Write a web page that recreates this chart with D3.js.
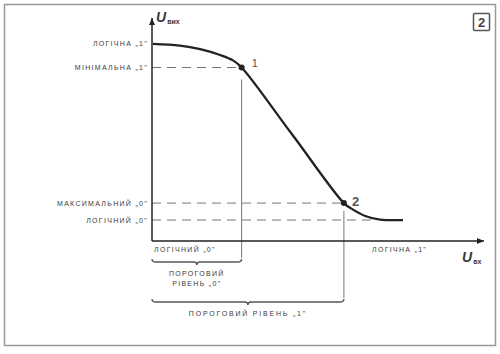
<!DOCTYPE html>
<html><head><meta charset="utf-8">
<script src="https://cdn.jsdelivr.net/npm/d3@7"></script>
<style>body{margin:0;background:#fff}svg{display:block}text{font-family:"Liberation Sans",Arial,sans-serif;fill:#3a3a3a}</style>
</head><body><svg id="c" width="500" height="354"></svg>
<script>
// Transfer characteristic (data units: x 0..10, y 0..5)
const curveX = [0.03, 0.84, 1.45, 2.05, 2.44, 2.70, 4.24, 5.78, 6.02, 6.42, 6.87, 7.56];
const curveY = [4.42, 4.38, 4.30, 4.17, 4.05, 3.89, 2.37, 0.85, 0.72, 0.56, 0.48, 0.47];
const outLevels = [4.42, 3.89, 0.85, 0.47];
const outLabels = ["ЛОГІЧНА „1\"", "МІНІМАЛЬНА „1\"", "МАКСИМАЛЬНИЙ „0\"", "ЛОГІЧНИЙ „0\""];
const thresholds = [2.70, 5.78];
const pointNames = ["1", "2"];
const pointsX = [2.70, 5.78];
const pointsY = [3.89, 0.85];

const svg = d3.select("#c");
const x = d3.scaleLinear().domain([0, 10]).range([152, 484]);
const y = d3.scaleLinear().domain([0, 5]).range([241, 18]);
const ink = "#222", thin = "#777";
const FS = 7, LS = 1.3;

// frame
svg.append("rect").attr("x", 4.5).attr("y", 4.5).attr("width", 491).attr("height", 341)
  .attr("fill", "none").attr("stroke", "#999").attr("stroke-width", 1.5);

// figure number box
svg.append("rect").attr("x", 473.5).attr("y", 13.5).attr("width", 16).attr("height", 17)
  .attr("fill", "none").attr("stroke", "#555").attr("stroke-width", 1.5).attr("rx", 1);
svg.append("text").attr("x", 481.5).attr("y", 27).attr("text-anchor", "middle")
  .attr("font-size", 13).attr("font-weight", "bold").style("fill", "#444").text("2");

// dashed horizontal levels (not for logical 1)
const dashEnds = [null, pointsX[0], pointsX[1], 6.6];
outLevels.forEach((v, i) => {
  if (dashEnds[i] !== null) {
    svg.append("line").attr("x1", x(0)).attr("x2", x(dashEnds[i])).attr("y1", y(v)).attr("y2", y(v))
      .attr("stroke", "#777").attr("stroke-width", 1).attr("stroke-dasharray", "9,6");
  }
  svg.append("text").attr("x", x(0) - 4).attr("y", y(v) + 2.5).attr("text-anchor", "end")
    .attr("font-size", FS).attr("letter-spacing", LS).text(outLabels[i]);
});

// vertical threshold lines
const vBottom = [262, 302];
thresholds.forEach((t, i) => {
  svg.append("line").attr("x1", x(t)).attr("x2", x(t)).attr("y1", i === 0 ? y(pointsY[0]) + 12 : y(pointsY[1]) + 8)
    .attr("y2", vBottom[i] - 4).attr("stroke", thin).attr("stroke-width", 1);
});

// axes
const axisG = svg.append("g");
axisG.append("line").attr("x1", x(0)).attr("x2", x(0)).attr("y1", y(5)).attr("y2", y(0))
  .attr("stroke", ink).attr("stroke-width", 1.5);
axisG.append("line").attr("x1", x(0)).attr("x2", x(10)).attr("y1", y(0)).attr("y2", y(0))
  .attr("stroke", ink).attr("stroke-width", 1.5);
axisG.append("path").attr("d", `M${x(0)-3},${y(5)+7}L${x(0)},${y(5)}L${x(0)+3},${y(5)+7}Z`).attr("fill", ink);
axisG.append("path").attr("d", `M${x(10)-7},${y(0)-3}L${x(10)},${y(0)}L${x(10)-7},${y(0)+3}Z`).attr("fill", ink);

// axis titles
const uy = svg.append("text").attr("x", 156).attr("y", 22).attr("font-size", 14).attr("font-style", "italic").attr("font-weight", "bold");
uy.append("tspan").text("U");
uy.append("tspan").attr("font-size", 7).attr("font-style", "normal").attr("dy", 2).attr("dx", 1).text("вих");
const ux = svg.append("text").attr("x", 462).attr("y", 262).attr("font-size", 14).attr("font-style", "italic").attr("font-weight", "bold");
ux.append("tspan").text("U");
ux.append("tspan").attr("font-size", 7).attr("font-style", "normal").attr("dy", 2).attr("dx", 1).text("вх");

// curve
const line = d3.line().x(d => x(d[0])).y(d => y(d[1])).curve(d3.curveCatmullRom.alpha(0.5));
svg.append("path").datum(curveX.map((v, i) => [v, curveY[i]])).attr("d", line)
  .attr("fill", "none").attr("stroke", ink).attr("stroke-width", 2.3);

// points
pointsX.forEach((px, i) => {
  svg.append("circle").attr("cx", x(px)).attr("cy", y(pointsY[i])).attr("r", 3).attr("fill", ink);
  svg.append("text").attr("x", x(px) + (i === 0 ? 10 : 8)).attr("y", y(pointsY[i]) + (i === 0 ? -1 : 3))
    .attr("font-size", i === 0 ? 11 : 13).attr("font-weight", i === 0 ? "normal" : "bold").style("fill", "#555").text(pointNames[i]);
});

// x-axis region labels
svg.append("text").attr("x", x(0) + 2).attr("y", 252).attr("font-size", FS).attr("letter-spacing", LS).text("ЛОГІЧНИЙ „0\"");
svg.append("text").attr("x", 372).attr("y", 252).attr("font-size", FS).attr("letter-spacing", LS).text("ЛОГІЧНА „1\"");

// braces
function brace(x1, x2, yy) {
  const m = (x1 + x2) / 2;
  svg.append("path").attr("d", `M${x1},${yy-3}Q${x1},${yy} ${x1+4},${yy}L${m-3},${yy}Q${m},${yy} ${m},${yy+3}Q${m},${yy} ${m+3},${yy}L${x2-4},${yy}Q${x2},${yy} ${x2},${yy-3}`)
    .attr("fill", "none").attr("stroke", "#555").attr("stroke-width", 1.4);
}
brace(x(0), x(thresholds[0]), vBottom[0]);
brace(x(0), x(thresholds[1]), vBottom[1]);
const cx0 = (x(0) + x(thresholds[0])) / 2;
svg.append("text").attr("x", cx0).attr("y", 276).attr("text-anchor", "middle").attr("font-size", FS).attr("letter-spacing", LS).text("ПОРОГОВИЙ");
svg.append("text").attr("x", cx0).attr("y", 286).attr("text-anchor", "middle").attr("font-size", FS).attr("letter-spacing", LS).text("РІВЕНЬ „0\"");
svg.append("text").attr("x", (x(0) + x(thresholds[1])) / 2).attr("y", 316).attr("text-anchor", "middle").attr("font-size", FS).attr("letter-spacing", 1.8).text("ПОРОГОВИЙ РІВЕНЬ „1\"");
</script></body></html>
